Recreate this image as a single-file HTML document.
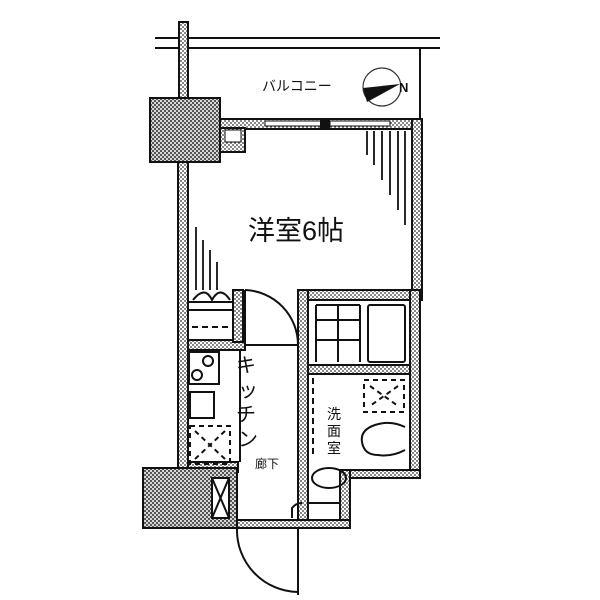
<!DOCTYPE html>
<html><head><meta charset="utf-8"><style>
html,body{margin:0;padding:0;background:#fff}
svg{display:block}
text{font-family:"Liberation Sans","Noto Sans CJK JP",sans-serif;fill:#111}
</style></head><body>
<svg width="600" height="600" viewBox="0 0 600 600" xmlns="http://www.w3.org/2000/svg">
<defs>
<pattern id="d" width="4" height="4" patternUnits="userSpaceOnUse">
<rect width="4" height="4" fill="#fff"/><circle cx="1" cy="1" r="0.9" fill="#333"/><circle cx="3" cy="3" r="0.9" fill="#333"/></pattern>
<pattern id="p" width="4" height="4" patternUnits="userSpaceOnUse">
<rect width="4" height="4" fill="#555"/><circle cx="1" cy="1" r="1" fill="#fff"/><circle cx="3" cy="3" r="1" fill="#fff"/></pattern>
</defs>
<g stroke="#111" stroke-width="2" fill="none">
<line x1="155" y1="38" x2="440" y2="38"/>
<line x1="155" y1="48" x2="440" y2="48"/>
<line x1="420" y1="48" x2="420" y2="120"/>
</g>
<text x="262" y="91" font-size="14">バルコニー</text>
<circle cx="382" cy="87" r="19" fill="#fff" stroke="#333" stroke-width="1.2"/>
<polygon points="363,88 400,84 367,102" fill="#111"/>
<text x="399" y="92" font-size="13" font-weight="bold">N</text>
<g stroke="#111" stroke-width="2" fill="url(#d)">
<rect x="179" y="22" width="9" height="78"/>
<rect x="178" y="160" width="10" height="312"/>
<rect x="218" y="119" width="204" height="10"/>
<rect x="412" y="119" width="10" height="180"/>
<rect x="302" y="290" width="120" height="10"/>
<rect x="298" y="290" width="10" height="238"/>
<rect x="410" y="290" width="10" height="188"/>
<rect x="350" y="470" width="70" height="8"/>
<rect x="340" y="470" width="10" height="58"/>
<rect x="308" y="365" width="102" height="9"/>
<rect x="188" y="340" width="57" height="10"/>
<rect x="233" y="290" width="10" height="52"/>
<rect x="188" y="462" width="50" height="10"/>
<rect x="237" y="520" width="113" height="8"/>
<rect x="218" y="128" width="27" height="24"/>
</g>
<rect x="225" y="130" width="16" height="12" fill="#fff" stroke="#111"/>
<g stroke="#111" stroke-width="2" fill="url(#p)">
<rect x="150" y="98" width="70" height="64"/>
<rect x="143" y="468" width="94" height="60"/>
</g>
<rect x="265" y="121" width="60" height="5" fill="#fff" stroke="#111"/>
<rect x="320" y="120" width="10" height="8" fill="#111"/>
<rect x="330" y="121" width="60" height="5" fill="#fff" stroke="#111"/>
<g stroke="#111" stroke-width="1.8">
<line x1="367" y1="131" x2="367" y2="155"/><line x1="374" y1="131" x2="374" y2="165"/>
<line x1="382" y1="131" x2="382" y2="180"/><line x1="390" y1="131" x2="390" y2="195"/>
<line x1="398" y1="131" x2="398" y2="210"/><line x1="405" y1="131" x2="405" y2="225"/>
<line x1="196" y1="227" x2="196" y2="290"/><line x1="203" y1="240" x2="203" y2="290"/>
<line x1="210" y1="250" x2="210" y2="290"/><line x1="217" y1="262" x2="217" y2="290"/>
</g>
<text x="248" y="240" font-size="27">洋室6帖</text>
<g stroke="#111" stroke-width="2" fill="none">
<path d="M193,300 Q205,285 212,300 Q220,285 230,300"/>
<line x1="188" y1="302" x2="233" y2="302"/>
<line x1="188" y1="310" x2="233" y2="310"/>
<line x1="192" y1="327" x2="230" y2="327" stroke-dasharray="6,4"/>
<line x1="245" y1="290" x2="245" y2="345"/>
<path d="M245,290 A55,55 0 0 1 298,345"/>
<line x1="245" y1="345" x2="298" y2="345"/>
<line x1="240" y1="350" x2="240" y2="462"/>
<rect x="189" y="352" width="30" height="32"/>
<circle cx="208" cy="361" r="5"/><circle cx="197" cy="375" r="5"/>
<rect x="190" y="392" width="24" height="26"/>
<rect x="190" y="426" width="40" height="38" stroke-dasharray="5,4"/>
<line x1="195" y1="431" x2="225" y2="459" stroke-dasharray="5,4"/>
<line x1="225" y1="431" x2="195" y2="459" stroke-dasharray="5,4"/>
<rect x="212" y="478" width="17" height="40" fill="#fff"/>
<line x1="212" y1="478" x2="229" y2="518"/><line x1="229" y1="478" x2="212" y2="518"/>
<line x1="298" y1="528" x2="298" y2="595"/>
<path d="M237,528 A62,62 0 0 0 298,592"/>
<line x1="237" y1="528" x2="298" y2="528"/>
<line x1="316" y1="305" x2="360" y2="305"/>
<line x1="316" y1="305" x2="316" y2="362"/>
<line x1="338" y1="305" x2="338" y2="362"/>
<line x1="316" y1="320" x2="360" y2="320"/>
<line x1="316" y1="340" x2="360" y2="340"/>
<line x1="360" y1="305" x2="360" y2="362"/>
<rect x="368" y="305" width="37" height="57" rx="2"/>
<line x1="313" y1="378" x2="313" y2="458" stroke-dasharray="6,4"/>
<rect x="364" y="380" width="40" height="32" stroke-dasharray="5,4"/>
<line x1="370" y1="386" x2="398" y2="406" stroke-dasharray="5,4"/>
<line x1="398" y1="386" x2="370" y2="406" stroke-dasharray="5,4"/>
<path d="M405,427 Q390,420 375,425 Q360,430 362,442 Q364,455 378,455 Q392,457 405,450"/>
<ellipse cx="329" cy="478" rx="17" ry="10"/>
<path d="M292,518 L292,508 Q296,503 302,503"/>
<rect x="308" y="503" width="32" height="17"/>
</g>
<text x="236" y="372" font-size="20">キ</text>
<text x="238" y="397" font-size="20">ッ</text>
<text x="236" y="421" font-size="20">チ</text>
<text x="238" y="446" font-size="20">ン</text>
<text x="255" y="468" font-size="12">廊下</text>
<text x="327" y="419" font-size="14">洗</text>
<text x="327" y="436" font-size="14">面</text>
<text x="327" y="453" font-size="14">室</text>
</svg>
</body></html>
